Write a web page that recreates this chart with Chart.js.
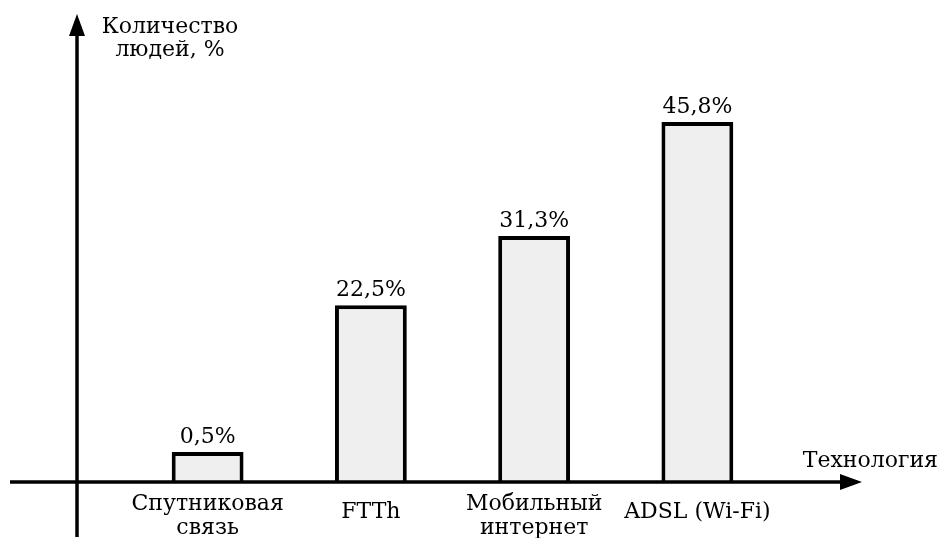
<!DOCTYPE html>
<html lang="ru">
<head>
    <meta charset="UTF-8">
    <title>Технология</title>
    <script src="https://cdn.jsdelivr.net/npm/chart.js"></script>
    <style>
        body { margin: 0; padding: 0; background: #fff; }
        #wrap { width: 939px; height: 540px; }
    </style>
</head>
<body>
<div id="wrap"><canvas id="chart"></canvas></div>
<script>
    // data
    var categories = [['Спутниковая', 'связь'], 'FTTh', ['Мобильный', 'интернет'], 'ADSL (Wi-Fi)'];
    var shares = [0.5, 22.5, 31.3, 45.8];
    var yTitle = ['Количество', 'людей, %'];
    var xTitle = 'Технология';

    var serif = '"DejaVu Serif", "Liberation Serif", serif';

    // axes with arrows + value labels
    var axesPlugin = {
        id: 'arrowAxes',
        afterDraw: function (chart) {
            var ctx = chart.ctx;
            var area = chart.chartArea;
            var yAxisX = area.left - 49;
            var base = chart.scales.y.getPixelForValue(0);

            ctx.save();
            ctx.strokeStyle = '#000';
            ctx.fillStyle = '#000';
            ctx.lineWidth = 3.5;

            // x axis
            ctx.beginPath();
            ctx.moveTo(10, base);
            ctx.lineTo(845, base);
            ctx.stroke();
            ctx.beginPath();
            ctx.moveTo(862, base);
            ctx.lineTo(840, base - 8);
            ctx.lineTo(840, base + 8);
            ctx.closePath();
            ctx.fill();

            // y axis
            ctx.beginPath();
            ctx.moveTo(yAxisX, 537);
            ctx.lineTo(yAxisX, 30);
            ctx.stroke();
            ctx.beginPath();
            ctx.moveTo(yAxisX, 14);
            ctx.lineTo(yAxisX - 8, 36);
            ctx.lineTo(yAxisX + 8, 36);
            ctx.closePath();
            ctx.fill();

            // axis titles
            ctx.font = '22px ' + serif;
            ctx.textAlign = 'center';
            ctx.textBaseline = 'alphabetic';
            ctx.fillText(yTitle[0], 170, 33);
            ctx.fillText(yTitle[1], 170, 56);
            ctx.textAlign = 'right';
            ctx.fillText(xTitle, 938, 467);

            // value labels
            ctx.font = '22px ' + serif;
            ctx.textAlign = 'center';
            var meta = chart.getDatasetMeta(0);
            meta.data.forEach(function (bar, i) {
                var txt = String(shares[i]).replace('.', ',') + '%';
                ctx.fillText(txt, bar.x, bar.y - 9);
            });
            ctx.restore();
        }
    };

    var ctx = document.getElementById('chart').getContext('2d');
    var chart = new Chart(ctx, {
        type: 'bar',
        data: {
            labels: categories,
            datasets: [{
                data: shares,
                backgroundColor: '#efefef',
                borderColor: '#000',
                borderWidth: 4,
                barPercentage: 0.44,
                categoryPercentage: 1,
                minBarLength: 30
            }]
        },
        options: {
            responsive: true,
            maintainAspectRatio: false,
            animation: false,
            layout: { padding: { left: 126, right: 160, top: 89, bottom: 2 } },
            plugins: {
                legend: { display: false },
                tooltip: { enabled: false }
            },
            scales: {
                x: {
                    grid: { display: false, drawTicks: false },
                    border: { display: false },
                    afterFit: function (scale) { scale.height = 56; },
                    ticks: {
                        color: '#000',
                        padding: 10,
                        maxRotation: 0,
                        autoSkip: false,
                        font: function (c) {
                            var two = Array.isArray(categories[c.index]);
                            return { family: serif, size: 22, lineHeight: two ? 1.1 : 1.8 };
                        }
                    }
                },
                y: {
                    display: false,
                    min: 0,
                    max: 50
                }
            }
        },
        plugins: [axesPlugin]
    });
</script>
</body>
</html>
